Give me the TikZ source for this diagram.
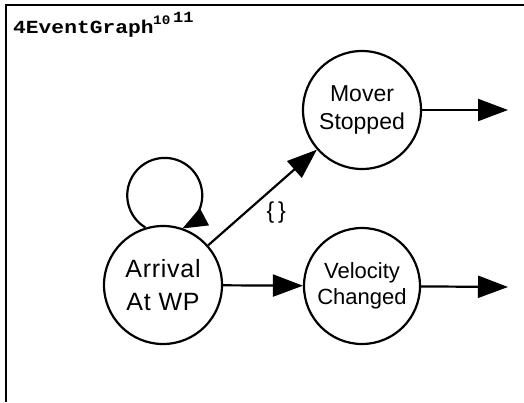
\documentclass[tikz,border=0pt]{standalone}
\usepackage{fontspec}
\usepackage{graphicx}
\setmainfont{Liberation Sans}
\newfontfamily\monofont{Liberation Mono}
\newfontfamily\spacedfont[LetterSpace=3]{Liberation Sans}
\usetikzlibrary{arrows.meta}
\begin{document}
\begin{tikzpicture}[x=1pt,y=1pt,
  ev/.style={circle,draw,line width=2.2pt,minimum size=118pt,inner sep=0pt,align=center,
    font=\fontsize{22}{26}\selectfont},
  conn/.style={line width=2.2pt,-{Triangle[length=30pt,width=22pt]}},
  loopconn/.style={line width=2.2pt,-{Triangle[length=25pt,width=19pt]}}]
\useasboundingbox (0,0) rectangle (524,-402);
\draw[line width=2.4pt] (6,-402) -- (6,-5) -- (524,-5);
\node[anchor=base west,inner sep=0pt,font=\monofont\bfseries\fontsize{18.5}{20}\selectfont] (title) at (13,-33) {\scalebox{1.15}[1]{4EventGraph}};
\node[anchor=base west,inner sep=0pt,font=\monofont\bfseries\fontsize{13}{14}\selectfont] (sa) at (153,-24) {\scalebox{1.1}[1]{10}};
\node[anchor=base west,inner sep=0pt,font=\monofont\bfseries\fontsize{15.5}{16}\selectfont] (sb) at (173,-22) {\scalebox{1.1}[1]{11}};

\node[ev,font=\fontsize{25}{33}\spacedfont] (arr) at (163,-285) {Arrival\\At WP};
\node[ev,font=\fontsize{23}{27.5}\selectfont] (mov) at (362,-110) {Mover\\Stopped};
\node[ev,minimum size=116pt] (vel) at (362,-286) {Velocity\\Changed};

\coordinate (movout) at (508,-110);
\coordinate (velout) at (508,-287);

\draw[loopconn] (arr.107) arc[start angle=239,end angle=-62,radius=37.5];
\draw[conn] (arr) -- (mov) node[pos=0.5,below right,inner sep=2pt,xshift=1pt,yshift=-1pt,font=\fontsize{23}{24}\selectfont] (lbl) {\{\,\}};
\draw[conn] (arr) -- (vel);
\draw[conn] (mov) -- (movout);
\draw[conn] (vel) -- (velout);
\end{tikzpicture}
\end{document}
